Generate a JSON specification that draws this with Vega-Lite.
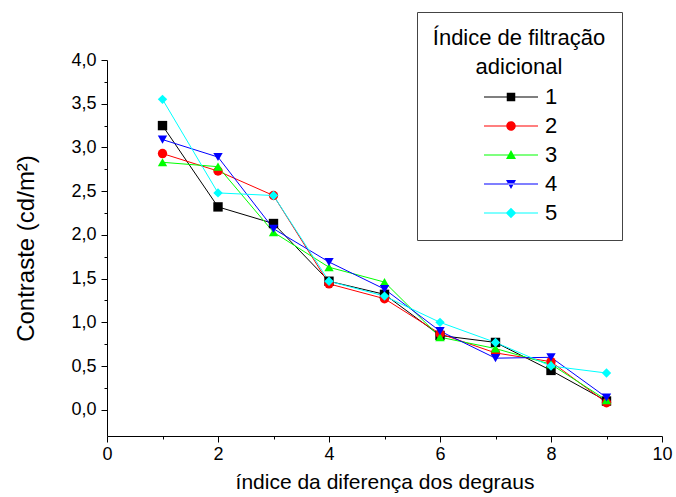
{
  "$schema": "https://vega.github.io/schema/vega-lite/v6.json",
  "width": 555,
  "height": 376,
  "autosize": {"type": "none"},
  "padding": {"left": 107, "top": 60, "right": 14, "bottom": 61},
  "background": "white",
  "config": {
    "view": {"stroke": null},
    "font": "Liberation Sans",
    "axis": {"grid": false, "domainColor": "black", "tickColor": "black", "labelColor": "black", "titleColor": "black", "labelFont": "Liberation Sans", "titleFont": "Liberation Sans", "titleFontWeight": "normal", "labelFontSize": 18, "titleFontSize": 21, "labelFlush": false, "labelOverlap": false, "domainWidth": 1, "tickWidth": 1}
  },
  "data": {
    "values": [
      {"x": 1, "s": "1", "y": 3.25}, {"x": 2, "s": "1", "y": 2.32}, {"x": 3, "s": "1", "y": 2.13}, {"x": 4, "s": "1", "y": 1.47}, {"x": 5, "s": "1", "y": 1.32}, {"x": 6, "s": "1", "y": 0.85}, {"x": 7, "s": "1", "y": 0.77}, {"x": 8, "s": "1", "y": 0.45}, {"x": 9, "s": "1", "y": 0.10},
      {"x": 1, "s": "2", "y": 2.93}, {"x": 2, "s": "2", "y": 2.73}, {"x": 3, "s": "2", "y": 2.45}, {"x": 4, "s": "2", "y": 1.44}, {"x": 5, "s": "2", "y": 1.27}, {"x": 6, "s": "2", "y": 0.87}, {"x": 7, "s": "2", "y": 0.65}, {"x": 8, "s": "2", "y": 0.55}, {"x": 9, "s": "2", "y": 0.08},
      {"x": 1, "s": "3", "y": 2.83}, {"x": 2, "s": "3", "y": 2.78}, {"x": 3, "s": "3", "y": 2.03}, {"x": 4, "s": "3", "y": 1.63}, {"x": 5, "s": "3", "y": 1.46}, {"x": 6, "s": "3", "y": 0.83}, {"x": 7, "s": "3", "y": 0.70}, {"x": 8, "s": "3", "y": 0.52}, {"x": 9, "s": "3", "y": 0.11},
      {"x": 1, "s": "4", "y": 3.09}, {"x": 2, "s": "4", "y": 2.89}, {"x": 3, "s": "4", "y": 2.07}, {"x": 4, "s": "4", "y": 1.69}, {"x": 5, "s": "4", "y": 1.38}, {"x": 6, "s": "4", "y": 0.90}, {"x": 7, "s": "4", "y": 0.59}, {"x": 8, "s": "4", "y": 0.60}, {"x": 9, "s": "4", "y": 0.14},
      {"x": 1, "s": "5", "y": 3.55}, {"x": 2, "s": "5", "y": 2.48}, {"x": 3, "s": "5", "y": 2.45}, {"x": 4, "s": "5", "y": 1.47}, {"x": 5, "s": "5", "y": 1.30}, {"x": 6, "s": "5", "y": 1.00}, {"x": 7, "s": "5", "y": 0.77}, {"x": 8, "s": "5", "y": 0.50}, {"x": 9, "s": "5", "y": 0.42}
    ]
  },
  "encoding": {
    "x": {
      "field": "x", "type": "quantitative",
      "scale": {"domain": [0, 10], "nice": false, "zero": false},
      "axis": {
        "title": "índice da diferença dos degraus",
        "values": [0, 1, 2, 3, 4, 5, 6, 7, 8, 9, 10],
        "format": "d",
        "labelExpr": "datum.value % 2 == 0 ? datum.label : ''",
        "tickSize": {"condition": {"test": "datum.value % 2 == 0", "value": 6}, "value": 3},
        "labelPadding": 3,
        "titlePadding": 8
      }
    },
    "y": {
      "field": "y", "type": "quantitative",
      "scale": {"domain": [-0.3, 4.0], "nice": false, "zero": false},
      "axis": {
        "title": "Contraste (cd/m²)",
        "titleFontSize": 24,
        "values": [0, 0.25, 0.5, 0.75, 1, 1.25, 1.5, 1.75, 2, 2.25, 2.5, 2.75, 3, 3.25, 3.5, 3.75, 4],
        "labelExpr": "abs(datum.value*2 - round(datum.value*2)) < 0.001 ? replace(format(datum.value, '.1f'), '.', ',') : ''",
        "tickSize": {"condition": {"test": "abs(datum.value*2 - round(datum.value*2)) < 0.001", "value": 6}, "value": 3},
        "labelPadding": 5,
        "titlePadding": 32
      }
    }
  },
  "layer": [
    {
      "mark": {"type": "line", "strokeWidth": 1},
      "encoding": {
        "color": {"field": "s", "type": "nominal", "scale": {"domain": ["1", "2", "3", "4", "5"], "range": ["#000000", "#ff0000", "#00ff00", "#0000ff", "#00ffff"]}, "legend": null},
        "order": {"field": "x", "type": "quantitative"}
      }
    },
    {
      "mark": {"type": "point", "filled": true, "opacity": 1, "size": 88, "strokeWidth": 0},
      "encoding": {
        "color": {"field": "s", "type": "nominal", "scale": {"domain": ["1", "2", "3", "4", "5"], "range": ["#000000", "#ff0000", "#00ff00", "#0000ff", "#00ffff"]}, "legend": null},
        "shape": {"field": "s", "type": "nominal", "scale": {"domain": ["1", "2", "3", "4", "5"], "range": ["square", "circle", "triangle-up", "triangle-down", "diamond"]}, "legend": null}
      }
    },
    {
      "transform": [{"filter": "false"}],
      "mark": {"type": "point", "filled": true, "opacity": 1, "size": 100, "strokeWidth": 0},
      "encoding": {
        "color": {
          "field": "s", "type": "nominal",
          "scale": {"domain": ["1", "2", "3", "4", "5"], "range": ["#000000", "#ff0000", "#00ff00", "#0000ff", "#00ffff"]},
          "legend": {"title": ["Índice de filtração", "adicional"], "orient": "none", "legendX": 310, "legendY": -48, "padding": 16, "strokeColor": "#444444", "fillColor": "white", "titleFont": "Liberation Sans", "titleFontSize": 22, "titleFontWeight": "normal", "titleColor": "black", "titleAnchor": "middle", "titleAlign": "center", "titleLineHeight": 29, "titlePadding": 7, "labelFont": "Liberation Sans", "labelFontSize": 22, "labelColor": "black", "symbolSize": 100, "symbolOffset": 42, "labelOffset": 1, "rowPadding": 7, "symbolStrokeWidth": 0}
        },
        "shape": {
          "field": "s", "type": "nominal",
          "scale": {"domain": ["1", "2", "3", "4", "5"], "range": [
            "M-9.8,-0.12H1V0.12H-9.8Z M-5.25,-0.85H-3.55V0.85H-5.25Z",
            "M-9.8,-0.12H1V0.12H-9.8Z M-3.45,0A0.95,0.95,0,1,1,-5.35,0A0.95,0.95,0,1,1,-3.45,0Z",
            "M-9.8,-0.12H1V0.12H-9.8Z M-4.4,-1L-3.4,0.8L-5.4,0.8Z",
            "M-9.8,-0.12H1V0.12H-9.8Z M-4.4,1L-3.4,-0.8L-5.4,-0.8Z",
            "M-9.8,-0.12H1V0.12H-9.8Z M-4.4,-1.05L-3.35,0L-4.4,1.05L-5.45,0Z"
          ]},
          "legend": {"title": ["Índice de filtração", "adicional"], "orient": "none", "legendX": 310, "legendY": -48, "padding": 16, "strokeColor": "#444444", "fillColor": "white", "titleFont": "Liberation Sans", "titleFontSize": 22, "titleFontWeight": "normal", "titleColor": "black", "titleAnchor": "middle", "titleAlign": "center", "titleLineHeight": 29, "titlePadding": 7, "labelFont": "Liberation Sans", "labelFontSize": 22, "labelColor": "black", "symbolSize": 100, "symbolOffset": 42, "labelOffset": 1, "rowPadding": 7, "symbolStrokeWidth": 0}
        }
      }
    }
  ],
  "resolve": {"scale": {"color": "independent", "shape": "independent"}}
}
